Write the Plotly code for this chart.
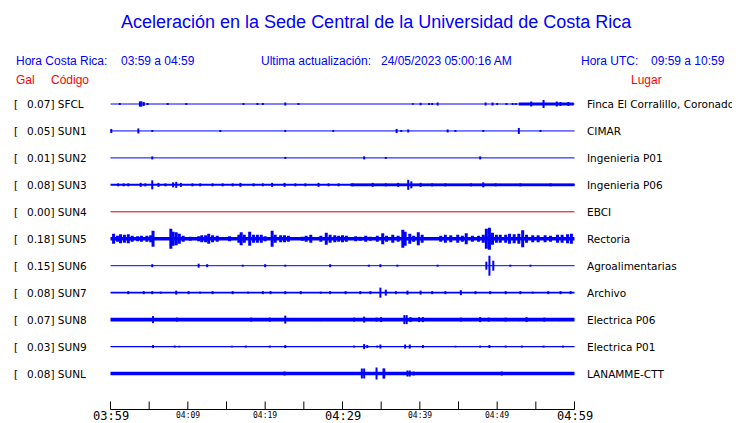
import plotly.graph_objects as go

# ---------------- data ----------------
STATIONS = ["SFCL", "SUN1", "SUN2", "SUN3", "SUN4", "SUN5", "SUN6", "SUN7", "SUN8", "SUN9", "SUNL"]
PEAK_GAL = [0.07, 0.05, 0.01, 0.08, 0.00, 0.18, 0.15, 0.08, 0.07, 0.03, 0.08]
PLACES = ["Finca El Corralillo, Coronado", "CIMAR", "Ingenieria P01", "Ingenieria P06", "EBCI",
          "Rectoria", "Agroalimentarias", "Archivo", "Electrica P06", "Electrica P01", "LANAMME-CTT"]
TICK_MIN = [0, 10, 20, 30, 40, 50, 60]
TICK_LABELS = ["03:59", "04:09", "04:19", "04:29", "04:39", "04:49", "04:59"]
MAJOR_TICKS = ["03:59", "04:29", "04:59"]
TICK_STEP_MIN = 5

# background trace half-thickness (display units) per station
BASE_HALF = [0.5, 0.5, 0.5, 1.0, 0.5, 1.8, 0.5, 0.8, 1.8, 0.6, 1.8]

# sustained noisy stretches: start minute, end minute, half-amplitude
SFCL_BAND = [(52.8, 59.9, 1.6)]
SUN3_BAND = [(31.0, 60.0, 1.4)]

# bursts: minute after 03:59 and half-amplitude (display units)
SFCL_MIN = [1.2, 3.8, 4.0, 4.3, 4.8, 7.4, 9.8, 17.2, 19.0, 19.7, 22.6, 24.3, 39.1, 40.1, 41.2, 41.6, 42.3,
            48.5, 49.4, 50.0, 51.2, 52.0, 52.4, 54.4, 56.0, 57.7, 58.2, 59.2]
SFCL_AMP = [1.0, 2.7, 2.7, 2.0, 1.0, 1.0, 1.0, 1.0, 1.0, 1.0, 1.5, 1.0, 0.8, 1.2, 1.0, 1.0, 1.5,
            1.5, 1.5, 1.0, 1.0, 1.0, 1.0, 2.5, 4.0, 2.5, 2.0, 2.0]

SUN1_MIN = [0.1, 3.6, 5.4, 14.2, 22.6, 28.8, 37.0, 37.6, 38.5, 43.6, 44.6, 48.2, 52.8, 55.6]
SUN1_AMP = [2.0, 2.5, 1.0, 1.0, 1.0, 1.0, 2.0, 1.0, 1.5, 1.5, 1.0, 1.0, 3.0, 1.0]

SUN2_MIN = [5.4, 22.6, 32.8, 35.6, 47.8]
SUN2_AMP = [1.5, 1.0, 1.5, 1.0, 1.5]

SUN3_MIN = [1.0, 1.7, 2.3, 3.9, 4.5, 5.4, 6.2, 7.1, 8.1, 8.5, 9.1, 10.6, 11.6, 13.2, 14.5, 15.8, 16.8,
            18.5, 19.7, 20.9, 22.5, 23.9, 25.2, 26.9, 28.2, 29.5, 31.3, 33.9, 35.6, 37.2, 38.5, 38.9,
            40.1, 41.6, 43.3, 46.6, 48.2, 49.8, 53.0, 56.9]
SUN3_AMP = [1.5, 1.5, 1.5, 2.0, 1.5, 4.5, 2.0, 1.5, 2.5, 3.0, 2.0, 1.5, 1.5, 1.5, 1.5, 1.5, 2.0,
            1.5, 1.5, 2.0, 2.0, 1.5, 1.5, 2.0, 1.5, 1.5, 1.5, 2.0, 1.5, 2.0, 5.0, 3.5,
            2.0, 1.5, 1.5, 1.5, 2.5, 1.5, 1.5, 1.5]

SUN4_MIN = []
SUN4_AMP = []

SUN5_MIN = [0.4, 0.9, 1.3, 1.8, 2.3, 2.8, 3.5, 4.0, 4.7, 5.2, 5.5, 7.8, 8.1, 8.5, 8.9, 9.4, 10.3, 11.4,
            11.8, 12.3, 12.7, 13.2, 13.8, 15.4, 16.6, 16.9, 17.3, 18.0, 18.5, 19.0, 19.5, 20.0, 20.9,
            21.3, 22.0, 22.5, 23.0, 24.8, 25.3, 25.9, 27.2, 27.9, 28.4, 29.0, 29.5, 30.0, 30.5, 31.7,
            32.3, 33.0, 33.6, 34.5, 35.2, 35.7, 36.5, 37.2, 37.8, 38.1, 38.7, 39.2, 39.8, 40.3, 42.7,
            43.3, 44.0, 44.9, 45.5, 46.0, 46.8, 47.6, 48.2, 48.6, 49.0, 49.4, 49.9, 50.4, 51.1, 51.6,
            52.2, 52.8, 53.3, 53.8, 54.6, 55.3, 56.2, 56.9, 57.8, 58.4, 59.1, 59.6]
SUN5_AMP = [5.0, 3.0, 4.5, 4.0, 4.5, 3.0, 2.5, 3.0, 3.0, 3.5, 8.0, 10.0, 7.0, 6.5, 5.0, 3.0, 2.0, 2.5,
            3.5, 3.5, 5.0, 3.5, 3.0, 2.5, 4.0, 6.5, 4.0, 7.0, 4.0, 4.0, 4.0, 2.5, 8.0,
            4.0, 3.5, 3.5, 3.0, 2.0, 3.0, 4.0, 3.0, 6.0, 4.0, 3.5, 3.0, 3.5, 3.0, 2.5,
            2.0, 3.0, 2.0, 3.0, 5.5, 3.0, 4.0, 3.0, 9.0, 7.0, 5.0, 3.0, 6.5, 4.0, 3.0,
            4.0, 3.5, 4.0, 3.0, 5.5, 3.0, 3.0, 4.0, 10.0, 11.0, 6.0, 4.0, 4.0, 4.0, 5.0,
            4.5, 5.0, 8.5, 4.0, 3.5, 3.5, 3.5, 3.0, 4.0, 4.0, 4.5, 5.0]

SUN6_MIN = [5.4, 11.4, 12.5, 17.1, 20.0, 22.6, 28.4, 33.4, 34.9, 37.1, 42.3, 48.6, 49.0, 49.5, 51.7, 54.3]
SUN6_AMP = [1.5, 2.0, 1.5, 1.0, 1.5, 1.0, 1.5, 1.0, 1.5, 1.0, 1.0, 4.0, 10.0, 5.0, 1.0, 1.0]

SUN7_MIN = [2.3, 4.3, 5.4, 6.5, 8.5, 10.1, 11.6, 13.2, 15.8, 17.8, 19.7, 20.7, 22.6, 24.6, 27.2, 28.4,
            30.4, 32.3, 33.6, 34.9, 35.6, 36.9, 38.4, 40.1, 41.6, 43.3, 45.3, 47.2, 49.1, 51.1, 53.0,
            54.6, 56.6, 58.2, 59.5]
SUN7_AMP = [1.5, 1.5, 1.5, 1.0, 2.0, 1.5, 1.0, 1.5, 1.5, 1.0, 1.5, 1.5, 1.5, 1.5, 1.0, 1.5,
            1.5, 1.5, 1.5, 5.0, 3.0, 1.5, 2.0, 2.0, 1.5, 1.5, 2.5, 1.5, 1.5, 1.5, 1.5,
            1.0, 1.5, 1.5, 1.5]

SUN8_MIN = [5.5, 8.6, 18.2, 20.6, 22.6, 27.1, 31.5, 32.8, 34.4, 35.0, 38.0, 38.3, 38.8, 39.9, 40.4,
            45.3, 47.8, 48.9, 51.1, 52.8, 53.8, 56.1, 58.1]
SUN8_AMP = [3.5, 2.0, 2.0, 2.0, 4.0, 1.5, 2.0, 3.0, 2.0, 2.5, 4.5, 4.5, 2.5, 2.5, 2.5,
            2.0, 2.5, 2.0, 2.0, 1.5, 2.5, 2.0, 1.5]

SUN9_MIN = [5.5, 8.3, 8.9, 15.7, 17.5, 20.6, 22.6, 31.5, 32.8, 33.2, 34.5, 34.9, 38.1, 38.7, 40.4,
            44.6, 47.8, 49.0, 51.1, 53.2, 56.0, 58.5]
SUN9_AMP = [1.5, 1.0, 0.8, 0.8, 1.0, 1.0, 1.5, 1.0, 2.5, 1.5, 1.0, 2.0, 2.0, 2.0, 1.5,
            0.8, 1.0, 1.5, 1.0, 1.0, 1.0, 1.0]

SUNL_MIN = [14.0, 20.1, 22.5, 32.5, 32.8, 34.4, 35.3, 35.4, 38.4, 38.7, 39.2, 50.6, 52.2]
SUNL_AMP = [1.5, 1.5, 2.0, 5.0, 5.0, 6.0, 5.0, 5.0, 3.0, 3.0, 2.0, 2.0, 1.5]

STATION_BURSTS = [(SFCL_MIN, SFCL_AMP), (SUN1_MIN, SUN1_AMP), (SUN2_MIN, SUN2_AMP),
                  (SUN3_MIN, SUN3_AMP), (SUN4_MIN, SUN4_AMP), (SUN5_MIN, SUN5_AMP),
                  (SUN6_MIN, SUN6_AMP), (SUN7_MIN, SUN7_AMP), (SUN8_MIN, SUN8_AMP),
                  (SUN9_MIN, SUN9_AMP), (SUNL_MIN, SUNL_AMP)]
STATION_BANDS = {0: SFCL_BAND, 3: SUN3_BAND}

# ---------------- layout constants ----------------
W, H = 740, 423
OFF = 8                       # default page margin of the html body
T0_PX, T60_PX = 110.5, 574.5  # window pixels of the first / last minute
PAD_PX = 1.5
PL, PR, PT, PB = T0_PX - PAD_PX, T60_PX + PAD_PX, 89, 411   # plot area in window pixels
AXIS_PX = 409.5               # time axis baseline (window px)
TICK_LEN = 8
ROW0 = 15                     # px from plot top to first trace
ROW_GAP = 26.95               # px between traces
BLUE = "#0000ff"
RED = "#ff0000"
DEAD = "#cc0000"

MIN_PX = (T60_PX - T0_PX) / 60.0
X_RANGE = [-PAD_PX / MIN_PX, 60 + PAD_PX / MIN_PX]

def row_y(i):
    return -(ROW0 + ROW_GAP * i)

def px_x(px):
    return (px - PL) / (PR - PL)

def px_y(py):
    return (PB - py) / (PB - PT)

fig = go.Figure()

for i, name in enumerate(STATIONS):
    color = DEAD if PEAK_GAL[i] == 0 else BLUE
    y0 = row_y(i)
    fig.add_trace(go.Scatter(x=[0, 60], y=[y0, y0], mode="lines",
                             line=dict(color=color, width=max(1, 2 * BASE_HALF[i])),
                             hoverinfo="skip", showlegend=False))
    for (t0, t1, a) in STATION_BANDS.get(i, []):
        fig.add_trace(go.Scatter(x=[t0, t1], y=[y0, y0], mode="lines",
                                 line=dict(color=color, width=2 * a),
                                 hoverinfo="skip", showlegend=False))
    tm, am = STATION_BURSTS[i]
    xs, ys = [], []
    for t, a in zip(tm, am):
        xs += [t, t, None]
        ys += [y0 + a, y0 - a, None]
    if xs:
        fig.add_trace(go.Scatter(x=xs, y=ys, mode="lines",
                                 line=dict(color=color, width=3 if name == "SUN5" else 2),
                                 hoverinfo="skip", showlegend=False))

# time axis: baseline and upward ticks every 5 minutes
ya = -(AXIS_PX - PT)
ax_x, ax_y = [0, 60, None], [ya, ya, None]
for t in range(0, 61, TICK_STEP_MIN):
    ax_x += [t, t, None]
    ax_y += [ya, ya + TICK_LEN, None]
fig.add_trace(go.Scatter(x=ax_x, y=ax_y, mode="lines", line=dict(color="black", width=1),
                         hoverinfo="skip", showlegend=False))

ann = []
def text(px, py, s, size, color="black", family="DejaVu Sans", anchor="left"):
    ann.append(dict(x=px_x(px), y=px_y(py), xref="paper", yref="paper", text=s,
                    showarrow=False, xanchor=anchor, yanchor="middle",
                    font=dict(size=size, color=color, family=family)))

SANS = "Liberation Sans, Arial, sans-serif"
text(376, 22, "Aceleración en la Sede Central de la Universidad de Costa Rica", 18, BLUE, SANS, "center")
text(14, 61, "Hora Costa Rica:", 12, BLUE, SANS)
text(119, 61, "03:59 a 04:59", 12, BLUE, SANS)
text(259, 61, "Ultima actualización:", 12, BLUE, SANS)
text(379, 61, "24/05/2023 05:00:16 AM", 12, BLUE, SANS)
text(579, 61, "Hora UTC:", 12, BLUE, SANS)
text(649, 61, "09:59 a 10:59", 12, BLUE, SANS)
text(14, 80, "Gal", 12, RED, SANS)
text(49, 80, "Código", 12, RED, SANS)
text(629, 80, "Lugar", 12, RED, SANS)

for i, name in enumerate(STATIONS):
    py = PT - row_y(i)
    text(12, py, "[", 10.5)
    text(25, py, f"{PEAK_GAL[i]:.2f}] {name}", 10.5)
    text(585, py, PLACES[i], 10.5)

for t, lab in zip(TICK_MIN, TICK_LABELS):
    big = lab in MAJOR_TICKS
    ann.append(dict(x=t, y=px_y(416 if big else 415), xref="x", yref="paper", text=lab,
                    showarrow=False, xanchor="center", yanchor="middle",
                    font=dict(size=12 if big else 8, color="black", family="DejaVu Sans Mono")))

fig.update_layout(
    width=W - OFF, height=H - OFF, autosize=False,
    margin=dict(l=PL - OFF, r=W - PR, t=PT - OFF, b=H - PB, pad=0),
    paper_bgcolor="white", plot_bgcolor="white",
    showlegend=False, annotations=ann,
    xaxis=dict(range=X_RANGE, visible=False, showgrid=False, zeroline=False, fixedrange=True),
    yaxis=dict(range=[-(PB - PT), 0], visible=False, showgrid=False, zeroline=False, fixedrange=True),
)

fig.write_html("out.html", config={"displayModeBar": False})
